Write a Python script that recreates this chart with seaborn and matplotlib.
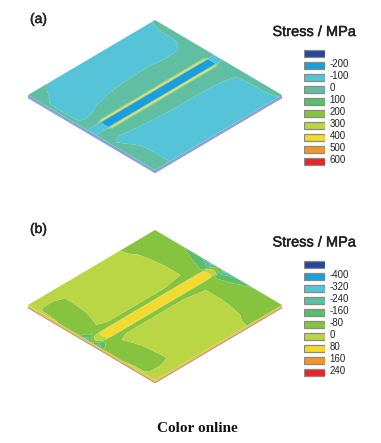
import numpy as np
import pandas as pd
import matplotlib
matplotlib.use('Agg')
import matplotlib.pyplot as plt
import matplotlib.patheffects as pe
from matplotlib.transforms import Affine2D
import seaborn as sns

sns.set_style('white')
plt.rcParams['font.family'] = ['Liberation Sans', 'DejaVu Sans']

# Ten colour bands shared by both legends
band_colors = ['#24489e', '#1b9fdc', '#55c4d9', '#60bfa3', '#5cbd6c',
               '#86c440', '#bbd645', '#f2da2e', '#f6942a', '#e8232b']
band_names = ['b0', 'b1', 'b2', 'b3', 'b4', 'b5', 'b6', 'b7', 'b8', 'b9']

levels_a = [-200, -100, 0, 100, 200, 300, 400, 500, 600]
levels_b = [-400, -320, -240, -160, -80, 0, 80, 160, 240]

# Plate coordinates: u runs along the weld, v across it
u_grid = [0, .03, .08, .12, .2, .35, .5, .65, .8, .88, .93, .97, 1]
v_grid = [0, .05, .1, .16, .22, .28, .34, .4, .445, .46, .47, .49, .5]

# Stress, MPa, one row per v_grid entry
stress_a = [
    [60, 60, 60, 40, -60, -60, -60, -60, -60, -60, -40, -10, 40],
    [60, 40, 30, -30, -60, -60, -60, -60, -60, -60, -30, 10, 50],
    [60, 20, -10, -50, -60, -60, -60, -60, -60, -50, -20, 30, 60],
    [60, -10, -50, -60, -60, -60, -60, -60, -60, -40, -15, 20, 60],
    [60, -20, -60, -60, -60, -60, -60, -60, -50, -30, -15, 30, 60],
    [60, -20, -60, -60, -50, -25, -10, -5, -20, -10, 15, 50, 60],
    [60, -20, -50, -40, 0, 40, 50, 55, 50, 50, 60, 60, 60],
    [60, 10, 20, 30, 50, 60, 60, 60, 60, 60, 60, 60, 60],
    [60, 50, 50, 60, 70, 70, 70, 70, 70, 70, 60, 50, 50],
    [40, 40, 40, 450, 480, 480, 480, 480, 480, 480, 400, 40, 40],
    [-30, -40, -40, -150, -150, -150, -150, -150, -150, -150, -150, -40, -30],
    [-30, -40, -40, -150, -150, -150, -150, -150, -150, -150, -150, -40, -30],
    [-30, -40, -40, -150, -150, -150, -150, -150, -150, -150, -150, -40, -30],
]

# Far half of panel (a), rows from v = 0.6 out to v = 1
stress_a_far = [
    [60, 30, 30, 40, 50, 60, 60, 60, 60, 60, 60, 60, 60],
    [60, 0, -30, -30, -15, 0, 5, 5, 10, 20, 30, 50, 60],
    [60, 30, -10, -40, -60, -50, -40, -40, -40, -30, -20, 30, 60],
    [60, 50, 30, -20, -60, -60, -60, -60, -50, -30, -15, 20, 60],
    [60, 60, 50, -10, -60, -60, -60, -60, -60, -40, -15, 10, 60],
    [60, 60, 60, -10, -60, -60, -60, -60, -60, -50, -20, 20, 60],
    [60, 60, 60, -10, -60, -60, -60, -60, -60, -60, -30, 10, 50],
    [60, 60, 60, -10, -60, -60, -60, -60, -60, -60, -40, -10, 40],
]

# Stress, MPa
stress_b = [
    [40, 40, 40, 40, 40, 40, 40, 40, -40, -40, -40, -40, -40],
    [40, 40, 40, 40, 40, 40, 40, 40, -30, -40, -40, -40, -40],
    [30, -30, -40, -40, 5, 40, 40, 40, -10, -40, -40, -40, -40],
    [30, -40, -40, -40, 5, 40, 40, 40, -5, -40, -40, -40, -50],
    [10, -40, -40, -40, 10, 40, 40, 40, -2, -40, -40, -50, -70],
    [-20, -40, -40, -40, 15, 40, 40, 40, 0, -40, -50, -70, -110],
    [-40, -40, -40, -20, 20, 40, 40, 40, 0, -30, -60, -100, -140],
    [-60, -50, -40, -10, 40, 40, 40, 40, 0, -30, -80, -120, -200],
    [-200, -120, -40, -40, -30, -30, -30, -30, -30, -40, -100, -180, -280],
    [-280, -120, -30, -20, -10, -10, -10, -10, -10, -20, -50, -120, -280],
    [-200, -50, 60, 120, 130, 130, 130, 130, 130, 120, 60, -60, -200],
    [-100, 0, 70, 125, 130, 130, 130, 130, 130, 125, 70, -20, -100],
    [-100, 0, 70, 125, 130, 130, 130, 130, 130, 125, 70, -20, -100],
]

fig = plt.figure(figsize=(3.81, 4.43), dpi=100)
ax = fig.add_axes([0, 0, 1, 1])
ax.set_xlim(0, 381)
ax.set_ylim(443, 0)
ax.axis('off')

heavy = [pe.withStroke(linewidth=.35, foreground='#222222')]


def draw_plate(stress, levels, left_x, left_y, side_color, edge_color, far=None):
    half = np.array(stress, dtype=float)
    if far is None:
        rest = half[-2::-1]
    else:
        rest = np.vstack([half[-2:7:-1], np.array(far, dtype=float)])
    z = np.vstack([half, rest])
    v = np.array(v_grid + [1 - x for x in v_grid[-2::-1]])
    to_px = Affine2D.from_values(127, -75, 127, 75, left_x, left_y) + ax.transData
    # side faces, a few pixels below the top face
    drop = Affine2D().translate(0, 2.8) + ax.transData
    corners_x = [left_x, left_x + 127, left_x + 254]
    corners_y = [left_y, left_y + 75, left_y]
    ax.fill(corners_x + corners_x[::-1],
            [c + 2.8 for c in corners_y] + corners_y[::-1],
            color=side_color, lw=0, zorder=1)
    ax.plot(corners_x, corners_y, color=edge_color, lw=.6, transform=drop, zorder=1)
    bounds = [-1000] + levels + [1000]
    ax.contourf(u_grid, v, z, levels=bounds, colors=band_colors,
                transform=to_px, zorder=2, antialiased=True)


def draw_legend(levels, top, title_y):
    swatch = fig.add_axes([304 / 381, 1 - (top + 121) / 443, 20.5 / 381, 121 / 443])
    frame = pd.DataFrame({'band': band_names, 'width': [1] * 10})
    sns.barplot(data=frame, x='width', y='band', hue='band', palette=band_colors,
                orient='h', width=.58, edgecolor='#8a8a80', linewidth=.9,
                saturation=1, legend=False, ax=swatch)
    swatch.set_xlim(0, 1)
    swatch.axis('off')
    ax.text(314.5, title_y, 'Stress / MPa', ha='center', va='center', fontsize=10.5,
            color='#222222', path_effects=heavy)
    for i, level in enumerate(levels):
        ax.text(329.5, top + 16.5 + 12.1 * i, str(level), ha='left', va='center',
                fontsize=7, color='#222222')


draw_plate(stress_a, levels_a, 28, 95, '#7fa9d6', '#9a9ac8', far=stress_a_far)
draw_plate(stress_b, levels_b, 28, 305, '#e9c25a', '#b08a70')

draw_legend(levels_a, 47, 32)
draw_legend(levels_b, 258, 242.5)

ax.text(30, 19, '(a)', ha='left', va='center', fontsize=10, color='#222222', path_effects=heavy)
ax.text(30, 229, '(b)', ha='left', va='center', fontsize=10, color='#222222', path_effects=heavy)
ax.text(197, 428, 'Color online', ha='center', va='center', fontsize=11,
        fontweight='bold', family=['Liberation Serif', 'DejaVu Serif'], color='#111111')

fig.savefig('out.png', dpi=100)
